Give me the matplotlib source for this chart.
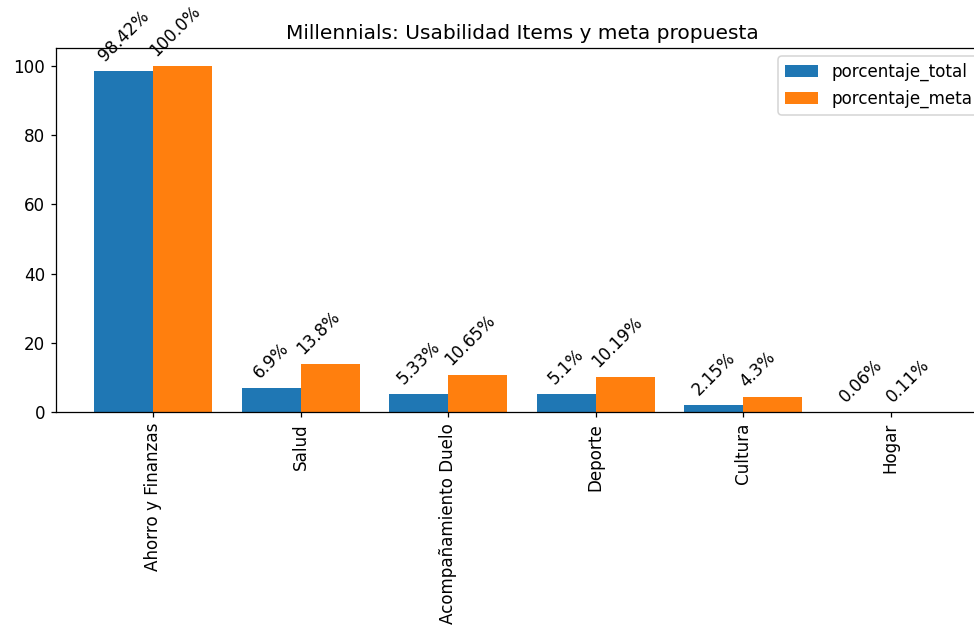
import matplotlib
matplotlib.use("Agg")
import matplotlib.pyplot as plt
import numpy as np

# Values
categorias = ["Ahorro y Finanzas", "Salud", "Acompañamiento Duelo", "Deporte", "Cultura", "Hogar"]
porcentaje_total = [98.42, 6.9, 5.33, 5.1, 2.15, 0.06]
porcentaje_meta = [100.0, 13.8, 10.65, 10.19, 4.3, 0.11]

plt.rcParams["font.size"] = 10.7

DPI = 113
fig = plt.figure(figsize=(974 / DPI, 626 / DPI), dpi=DPI)
# axes runs past the right edge, like the cropped original
ax = fig.add_axes([56 / 974, 214 / 626, 932 / 974, 364 / 626])

x = np.arange(len(categorias))
width = 0.4

ax.bar(x - width / 2, porcentaje_total, width, label="porcentaje_total", color="#1f77b4")
ax.bar(x + width / 2, porcentaje_meta, width, label="porcentaje_meta", color="#ff7f0e")

# labels above the bars
for i, v in enumerate(porcentaje_total):
    ax.text(i - width / 2, v + 1.8, f"{v}%", rotation=45, ha="center", va="bottom")
for i, v in enumerate(porcentaje_meta):
    ax.text(i - 0.05, v + 1.8, f"{v}%", rotation=45, ha="left", va="bottom")

ax.set_xticks(x)
ax.set_xticklabels(categorias, rotation=90)
ax.set_xlim(-0.66, 5.66)
ax.set_ylim(0, 105.2)
ax.set_title("Millennials: Usabilidad Items y meta propuesta")
ax.legend(loc="upper right")

fig.savefig("out.png", dpi=DPI)
